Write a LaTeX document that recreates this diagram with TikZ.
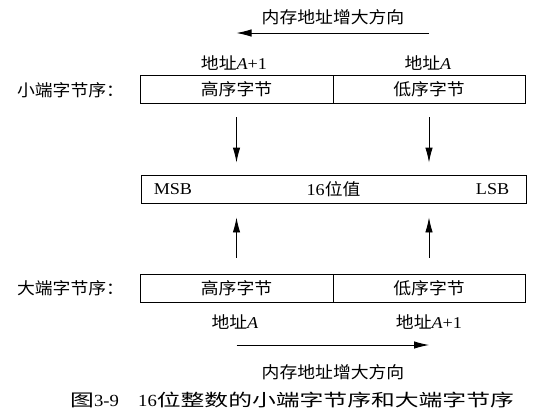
\documentclass[tikz,border=0pt]{standalone}
\usepackage{fontspec}
\setmainfont{Liberation Serif}[FakeStretch=1.1]
\newfontfamily\cjk{Noto Sans CJK SC}[FakeStretch=1.08]
\newfontfamily\cjkcap{Noto Sans CJK SC}[FakeStretch=1.4]
\usetikzlibrary{arrows.meta}
\begin{document}
\begin{tikzpicture}[x=1pt,y=-1pt,
  txt/.style={inner sep=0pt, font=\fontsize{16.5}{19}\selectfont},
  cjktxt/.style={inner sep=0pt, font=\cjk\fontsize{16.5}{19}\selectfont},
  cell/.style={draw, line width=0.9pt, inner sep=0pt, minimum height=28pt, font=\cjk\fontsize{16.5}{19}\selectfont},
  arr/.style={line width=0.9pt, -{Latex[length=15pt,width=7.5pt]}},
  captxt/.style={inner sep=0pt, anchor=west, font=\fontsize{17}{20}\selectfont}]
\useasboundingbox (0,0) rectangle (544,416);

% top direction
\node[cjktxt] (toplbl) at (333,17) {内存地址增大方向};
\coordinate (t1) at (429,33);
\coordinate (t0) at (236.5,33);
\draw[arr] (t1) -- (t0);

% addresses above little-endian
\node[txt] (la1) at (234,63) {{\cjk 地址}\textit{A}+1};
\node[txt] (la0) at (428,63) {{\cjk 地址}\textit{A}};

% little-endian
\node[cjktxt] (little) at (70.5,90) {小端字节序：};
\node[cell, minimum width=193pt] (lh) at (236.5,89) {高序字节};
\node[cell, minimum width=192pt] (ll) at (429,89) {低序字节};

% value
\node[cell, minimum width=385pt, font=\fontsize{16.5}{19}\selectfont] (val) at (333.5,189) {16{\cjk 位值}};
\node[txt, anchor=west] (msb) at ([xshift=13pt]val.west) {MSB};
\node[txt, anchor=east] (lsb) at ([xshift=-17pt]val.east) {LSB};

% big-endian
\node[cjktxt] (big) at (70.5,288) {大端字节序：};
\node[cell, minimum width=193pt] (bh) at (236.5,288) {高序字节};
\node[cell, minimum width=192pt] (bl) at (429,288) {低序字节};

% arrows to value
\draw[arr, shorten <=14pt, shorten >=12pt] (lh.south) -- (lh.south |- val.north);
\draw[arr, shorten <=14pt, shorten >=12pt] (ll.south) -- (ll.south |- val.north);
\draw[arr, shorten <=16pt, shorten >=14pt] (bh.north) -- (bh.north |- val.south);
\draw[arr, shorten <=16pt, shorten >=14pt] (bl.north) -- (bl.north |- val.south);

% addresses below big-endian
\node[txt] (ba0) at (235,322) {{\cjk 地址}\textit{A}};
\node[txt] (ba1) at (429,322) {{\cjk 地址}\textit{A}+1};

% bottom direction
\coordinate (b0) at (236.5,345);
\coordinate (b1) at (429,345);
\draw[arr] (b0) -- (b1);
\node[cjktxt] (botlbl) at (333,372) {内存地址增大方向};

% caption
\node[captxt] (cap1) at (70,400) {{\cjkcap 图}3-9};
\node[captxt] (cap2) at (138,400) {16{\cjkcap 位整数的小端字节序和大端字节序}};
\end{tikzpicture}
\end{document}
